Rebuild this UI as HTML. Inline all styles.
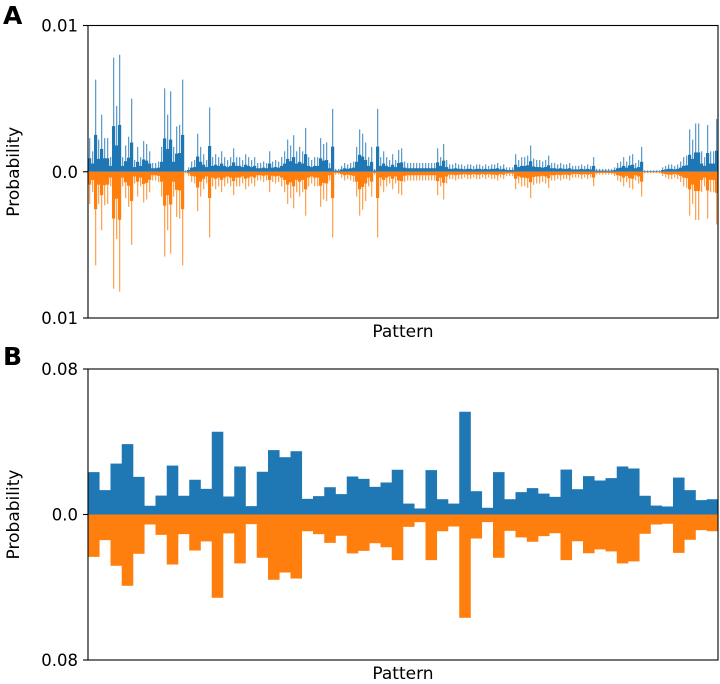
<!DOCTYPE html>
<html><head><meta charset="utf-8">
<style>
html,body{margin:0;padding:0;background:#fff;}
svg{display:block;font-family:"DejaVu Sans","Liberation Sans",sans-serif;}
</style></head>
<body>
<svg id="fig" width="720" height="684" viewBox="0 0 720 684"></svg>
<script>
// Panel A values in units of 1e-4 probability (210 pattern bins)
const blueA = [23,14,63,22,39,23,23,10,78,45,80,10,18,24,50,8,17,10,21,19,
14,6,6,7,17,57,39,55,17,31,32,63,1,3,7,8,26,17,12,8,
44,10,12,10,14,10,8,10,16,10,10,8,12,10,8,10,6,6,7,6,
14,7,8,7,10,14,22,18,25,14,17,14,30,10,8,10,10,23,19,20,
6,43,2,2,4,6,5,6,7,17,29,26,20,10,17,2,43,10,14,10,
8,12,8,15,16,7,6,6,6,6,6,6,6,6,6,6,16,10,19,8,
5,5,6,5,5,4,5,5,4,5,5,4,5,4,5,5,6,4,5,3,
3,3,12,8,10,10,11,18,9,8,8,7,8,11,6,6,5,6,5,5,
6,4,4,4,5,4,5,4,10,2,2,2,2,2,2,3,6,7,10,7,
11,12,6,8,17,1,1,1,1,1,1,3,4,5,5,4,5,7,10,11,
29,22,33,33,14,10,32,14,14,36];
const orangeA = [22,14,64,22,40,23,22,10,80,46,82,10,18,24,50,8,17,10,21,19,
14,6,6,7,17,58,40,56,17,31,32,64,1,3,7,8,27,17,12,8,
45,10,12,10,14,10,8,10,16,10,10,8,12,10,8,10,6,6,7,6,
14,7,8,7,10,14,22,18,25,14,17,14,30,10,8,10,10,24,19,20,
6,45,2,2,4,6,5,6,7,17,30,26,20,10,17,2,45,10,14,10,
8,12,8,15,16,7,6,6,6,6,6,6,6,6,6,6,16,10,19,8,
5,5,6,5,5,4,5,5,4,5,5,4,5,4,5,5,6,4,5,3,
3,3,12,8,10,10,11,18,9,8,8,7,8,11,6,6,5,6,5,5,
6,4,4,4,5,4,5,4,10,2,2,2,2,2,2,3,6,7,10,7,
11,12,6,8,17,1,1,1,1,1,1,3,4,5,5,4,5,7,10,11,
30,22,33,33,14,10,32,14,14,36];
const ticksA = ["0.01","0.0","0.01"];
const tickValsA = [0.01,0,-0.01];

// Panel B values in units of 1e-3 probability (56 patterns)
const blueB = [23.3,13.4,28.0,38.7,20.7,4.8,10.4,26.9,10.3,19.1,14.1,45.5,9.9,26.4,4.6,23.5,35.4,31.5,34.8,8.6,
10.1,15.0,11.2,20.9,19.6,15.2,17.6,24.6,6.0,3.3,24.4,8.4,6.0,56.5,12.8,3.7,23.3,8.4,12.3,14.5,
11.5,9.7,24.7,13.9,21.1,18.7,20.0,26.4,25.3,10.3,4.9,4.4,20.3,13.4,7.9,8.4];
const orangeB = [23.3,14.1,28.2,39.2,21.6,5.5,11.2,27.5,10.8,19.8,14.8,45.8,10.4,26.9,5.3,23.8,35.9,31.9,35.2,9.2,
10.8,15.6,11.7,21.4,20.0,15.8,18.0,25.1,6.8,4.2,25.1,9.2,6.6,56.8,13.2,4.2,23.8,9.0,12.6,15.0,
11.9,10.3,25.1,14.7,21.3,19.2,20.3,26.9,25.8,10.6,5.5,5.1,21.1,13.9,8.6,9.2];
const ticksB = ["0.08","0.0","0.08"];
const tickValsB = [0.08,0,-0.08];

const NS = "http://www.w3.org/2000/svg";
const svg = document.getElementById('fig');
function mk(tag, attrs, parent){
  const e = document.createElementNS(NS, tag);
  for (const k in attrs) e.setAttribute(k, attrs[k]);
  (parent||svg).appendChild(e);
  return e;
}

function panel(cfg){
  const g = mk('g', {});
  
  
  const L = 88, R = 718, T = cfg.top, B = cfg.bottom, Z = (T+B)/2;
  const yScale = v => Z - v/cfg.max*(Z-T);
  const n = cfg.blue.length, bw = (R-L)/n;
  const xScale = i => L + i*bw;
  for (let i=0;i<n;i++){
    const v = cfg.blue[i]*cfg.unit;
    const w = cfg.orange[i]*cfg.unit;
    if (cfg.spiky){
      // dense base + thin spike
      const hb = (Z-yScale(v))*0.4, ho = (Z-yScale(w))*0.4;
      const b1 = mk('rect', {x:xScale(i), y:Z-hb, width:bw+0.2, height:hb, fill:'#1f77b4'}, g);
      
      
      const o1 = mk('rect', {x:xScale(i), y:Z, width:bw+0.2, height:ho, fill:'#ff7f0e'}, g);
      
      
      const s1 = mk('rect', {x:xScale(i)+bw*0.35, y:yScale(v), width:1.2, height:Z-yScale(v), fill:'#1f77b4', opacity:0.75}, g);
      
      
      const s2 = mk('rect', {x:xScale(i)+bw*0.35, y:Z, width:1.2, height:Z-yScale(w), fill:'#ff7f0e', opacity:0.75}, g);
      
      
    } else {
      const r = mk('rect', {x:xScale(i), y:yScale(v), width:bw+0.3, height:Z-yScale(v), fill:'#1f77b4'}, g);
      
      
      const o = mk('rect', {x:xScale(i), y:Z, width:bw+0.3, height:Z-yScale(w), fill:'#ff7f0e'}, g);
      
      
    }
  }
  const frame = mk('rect', {x:L, y:T, width:R-L, height:B-T, fill:'none', stroke:'#000', 'stroke-width':1.1}, g);
  
  
  for (let k=0;k<cfg.tickVals.length;k++){
    const y = yScale(cfg.tickVals[k]);
    const t = mk('line', {x1:L-5, x2:L, y1:y, y2:y, stroke:'#000', 'stroke-width':1.1}, g);
    
    
    const tx = mk('text', {x:L-10, y:y+6, 'text-anchor':'end', 'font-size':16.5, fill:'#000'}, g);
    
    
    tx.textContent = cfg.ticks[k];
  }
  const yl = mk('text', {x:0, y:0, transform:`translate(19,${Z}) rotate(-90)`, 'text-anchor':'middle', 'font-size':17}, g);
  
  
  yl.textContent = 'Probability';
  const xl = mk('text', {x:(L+R)/2, y:B+19, 'text-anchor':'middle', 'font-size':17}, g);
  
  
  xl.textContent = 'Pattern';
  const pl = mk('text', {x:3, y:cfg.labelY, 'font-size':25, 'font-weight':'bold'}, g);
  
  
  pl.textContent = cfg.label;
}

panel({name:'panel-a', label:'A', labelY:24, top:25.5, bottom:318, max:0.01, unit:1e-4, spiky:true,
  blue:blueA, orange:orangeA, ticks:ticksA, tickVals:tickValsA});
panel({name:'panel-b', label:'B', labelY:365, top:369, bottom:660, max:0.08, unit:1e-3, spiky:false,
  blue:blueB, orange:orangeB, ticks:ticksB, tickVals:tickValsB});
</script>
</body></html>
